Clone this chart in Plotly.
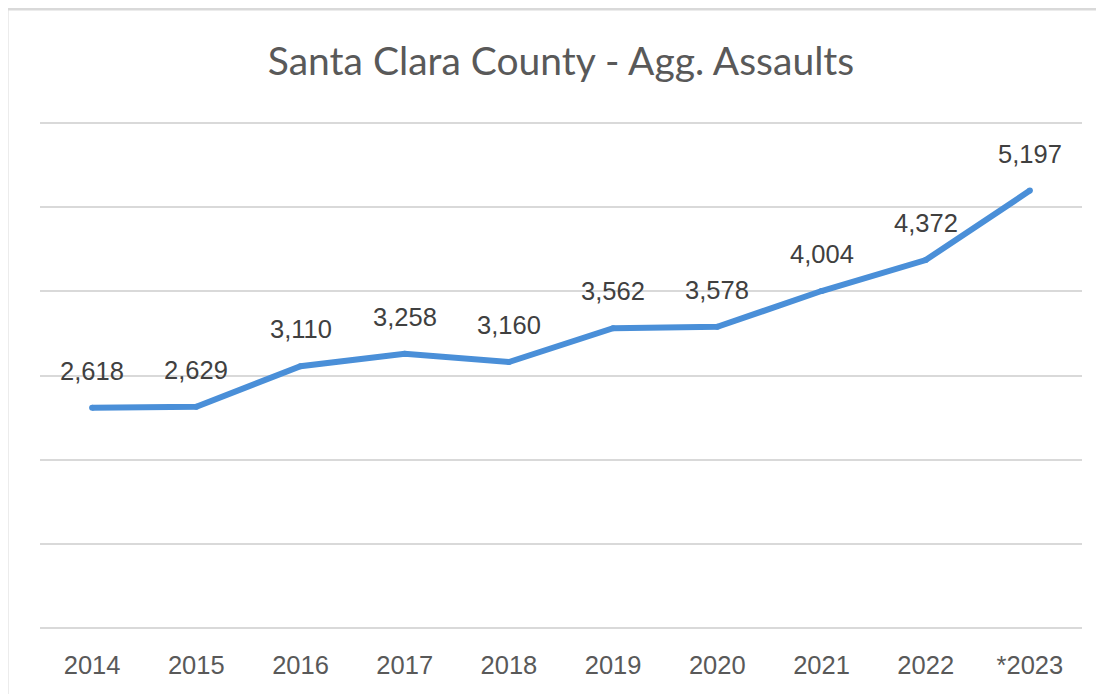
import plotly.graph_objects as go

years = ["2014", "2015", "2016", "2017", "2018", "2019", "2020", "2021", "2022", "*2023"]
assaults = [2618, 2629, 3110, 3258, 3160, 3562, 3578, 4004, 4372, 5197]
title_text = "Santa Clara County - Agg. Assaults"

# page body has an 8px default margin; compensate
OFF = 8
W, H = 1104 - OFF, 694 - OFF
ml, mr, mt, mb = 40 - OFF, 22, 122 - OFF, 65

fig = go.Figure()
fig.add_trace(go.Scatter(
    x=years, y=assaults, mode="lines+markers",
    line=dict(color="#4a8fd8", width=6, shape="linear"),
    marker=dict(color="#4a8fd8", size=6, line=dict(width=0)),
    hoverinfo="skip", showlegend=False,
))

for i, v in enumerate(assaults):
    fig.add_annotation(
        x=i, y=v, text=f"{v:,}", showarrow=False,
        yanchor="middle", xanchor="center", yshift=37,
        font=dict(family="Liberation Sans, Arial, sans-serif", size=25.5, color="#404040"),
    )

pw = W - ml - mr
ph = H - mt - mb
# frame border (cropped at right/bottom)
x0 = (7 - OFF - ml) / pw
ytop = (H - mb - (9 - OFF)) / ph
fig.add_shape(type="line", xref="paper", yref="paper", x0=x0, x1=x0, y0=-0.5, y1=ytop,
              line=dict(color="#d9d9d9", width=3))
fig.add_shape(type="line", xref="paper", yref="paper", x0=x0, x1=1.2, y0=ytop, y1=ytop,
              line=dict(color="#d9d9d9", width=3))

fig.update_layout(
    width=W, height=H,
    margin=dict(l=ml, r=mr, t=mt, b=mb),
    paper_bgcolor="white", plot_bgcolor="white",
    title=dict(text=title_text, x=0.5, xanchor="center", xref="paper",
               y=1 - (61 - OFF) / H, yanchor="middle",
               font=dict(family="Lato, Open Sans, sans-serif", size=39, color="#595959")),
    xaxis=dict(type="category", range=[-0.5, 9.5], showgrid=False, zeroline=False,
               showline=False, ticks="", ticklabelstandoff=18,
               tickfont=dict(family="Liberation Sans, Arial, sans-serif", size=25.5, color="#595959")),
    yaxis=dict(range=[-12, 6012], tickvals=[0, 1000, 2000, 3000, 4000, 5000, 6000],
               showgrid=True, gridcolor="#d9d9d9", gridwidth=2,
               zeroline=False, showline=False, showticklabels=False, ticks=""),
)

fig.write_html("out.html")
